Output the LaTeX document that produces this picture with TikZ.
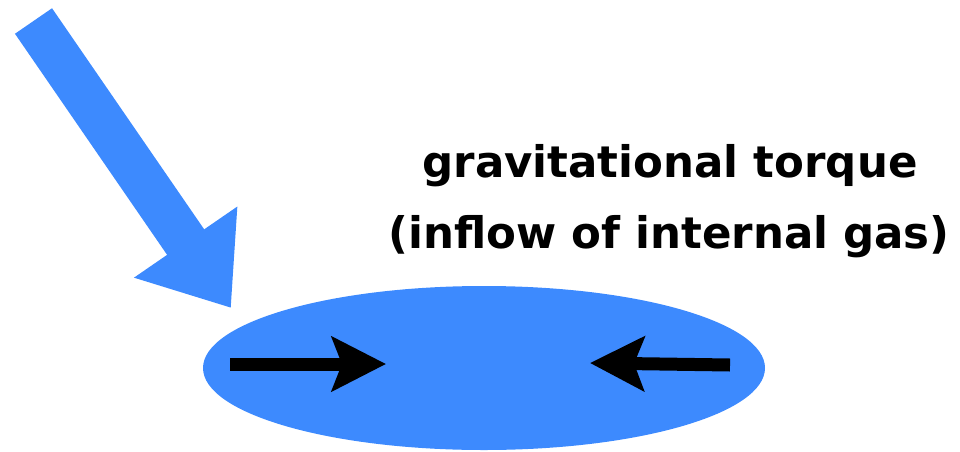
\documentclass[tikz,border=0pt]{standalone}
\usepackage{fontspec}
\setmainfont{DejaVu Sans}
\usetikzlibrary{arrows.meta, shapes.geometric}
\definecolor{gasblue}{RGB}{61,138,254}

\begin{document}
\begin{tikzpicture}[
  x=1pt, y=1pt,
  disc/.style={ellipse, fill=gasblue, draw=none, minimum width=562pt, minimum height=164pt, inner sep=0pt},
  infall/.style={gasblue, line width=45pt, -{Triangle[length=80pt, width=120pt]}},
  inflow/.style={black, line width=13pt, -{Stealth[length=54pt, width=54pt, inset=10pt]}},
  lbl/.style={font=\fontsize{43.5}{48}\selectfont\bfseries, inner sep=0pt, anchor=base}
]
\useasboundingbox (0,0) rectangle (960,451);

\node[disc] (disk) at (484,83) {};

\coordinate (src) at (33.5,430);
\coordinate (hit) at (231,143);
\draw[infall] (src) -- (hit);

\coordinate (left)   at (230,87);
\coordinate (right)  at (730,86);
\coordinate (lefttip)  at (386,87);
\coordinate (righttip) at (590,88);
\draw[inflow] (left)  -- (lefttip);
\draw[inflow] (right) -- (righttip);

\node[lbl] (torque) at (670,274) {gravitational torque};
\node[lbl] (gas)    at (669,203) {(inflow of internal gas)};

\end{tikzpicture}
\end{document}
